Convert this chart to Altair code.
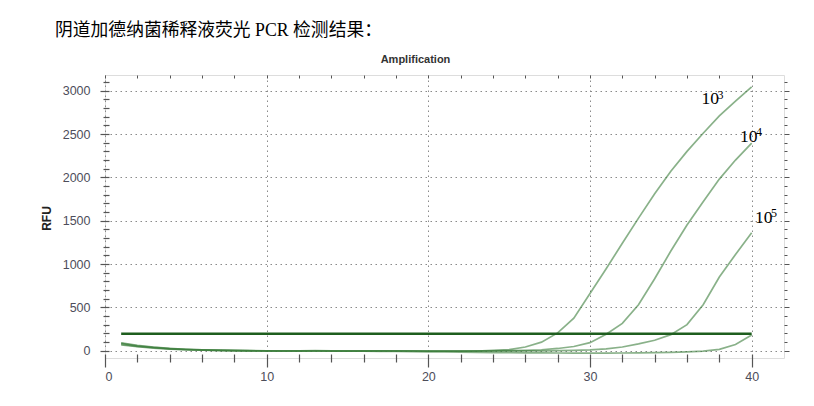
import altair as alt
import pandas as pd

# ---------------- data ----------------
cycles = list(range(1, 41))
rfu_1e3 = [85, 55, 38, 24, 15, 9, 4, 1, -1, -2, -3, -2, -1, -2, -3, -3, -2, -2, -3, -4,
           -5, -5, -5, 2, 12, 42, 98, 205, 375, 660, 945, 1240, 1530, 1810, 2070, 2300,
           2510, 2710, 2880, 3045]
rfu_1e4 = [75, 50, 33, 20, 12, 7, 3, 0, -2, -3, -4, -3, -3, -4, -4, -3, -3, -3, -4, -5,
           -5, -4, -3, -2, 0, 3, 10, 25, 48, 92, 190, 315, 530, 830, 1150, 1450, 1720,
           1980, 2200, 2395]
rfu_1e5 = [65, 45, 30, 18, 10, 5, 2, -1, -3, -4, -5, -5, -4, -4, -5, -5, -4, -4, -4, -5,
           -5, -5, -4, -4, -3, -3, -2, 0, 3, 8, 20, 42, 78, 120, 185, 300, 530, 850, 1110,
           1360]
rfu_neg = [90, 60, 40, 26, 16, 10, 5, 2, 0, -2, -3, -4, -4, -5, -6, -7, -8, -10, -12, -14,
           -16, -18, -20, -22, -24, -25, -26, -27, -28, -28, -28, -27, -26, -24, -20, -14,
           -5, 15, 70, 181]
series_names = ["1e3", "1e4", "1e5", "neg"]

threshold_cycles = [1, 40]
threshold_rfu = [195, 195]

label_base = ["10", "10", "10"]
label_exp = ["3", "4", "5"]
label_cycle = [36.9, 39.28, 40.2]
label_rfu = [2843, 2412, 1477]

x_ticks = list(range(0, 42, 2))
y_ticks = list(range(0, 3200, 100))

title_text = "阴道加德纳菌稀释液荧光 PCR 检测结果："

# ---------------- tables ----------------
rows = []
for name, vals in zip(series_names, [rfu_1e3, rfu_1e4, rfu_1e5, rfu_neg]):
    for c, v in zip(cycles, vals):
        rows.append({"series": name, "cycle": c, "rfu": v})
curves_df = pd.DataFrame(rows)
thr_df = pd.DataFrame({"cycle": threshold_cycles, "rfu": threshold_rfu})
lab_df = pd.DataFrame({"cycle": label_cycle, "rfu": label_rfu,
                       "base": label_base, "exp": label_exp})

xs = alt.Scale(domain=[0, 42], nice=False, zero=False)
ys = alt.Scale(domain=[-85, 3182], nice=False, zero=False)

axis_font = "Liberation Sans"
label_color = "#4d4d5a"
tick_color = "#555555"

major_x = "datum.value % 10 === 0"
major_y = "datum.value % 500 === 0"

x_bottom = alt.Axis(
    orient="bottom", values=x_ticks, format="d",
    labelExpr=f"{major_x} ? datum.label : ''",
    tickSize={"condition": {"test": major_x, "value": 13}, "value": 8},
    tickColor=tick_color, tickWidth=1.2, offset=-4, domain=False,
    grid=True, gridDash=[1.5, 3.5], gridColor="#8a8a8a", gridWidth=1,
    gridOpacity={"condition": {"test": major_x, "value": 1}, "value": 0},
    title=None, labelFont=axis_font, labelFontSize=12.5, labelColor=label_color,
    labelPadding=3,
)
y_left = alt.Axis(
    orient="left", values=y_ticks, format="d",
    labelExpr=f"{major_y} ? datum.label : ''",
    tickSize={"condition": {"test": major_y, "value": 9}, "value": 6},
    tickColor=tick_color, tickWidth=1.2, offset=-4, domain=False,
    grid=True, gridDash=[1.5, 3.5], gridColor="#8a8a8a", gridWidth=1,
    gridOpacity={"condition": {"test": major_y, "value": 1}, "value": 0},
    title="RFU", titleFont=axis_font, titleFontSize=12, titleFontWeight="bold",
    titleColor="#222222", titleAngle=270, titleX=-63, titleY=143,
    titleAlign="center", titleBaseline="middle",
    labelFont=axis_font, labelFontSize=12.5, labelColor=label_color,
    labelPadding=10,
)
x_top = alt.Axis(
    orient="top", values=x_ticks, labels=False, tickSize=3, offset=-3,
    tickColor=tick_color, tickWidth=1, domain=False, grid=False,
    title="Amplification", titleFont=axis_font, titleFontSize=11,
    titleFontWeight="bold", titleColor="#333333", titleX=310, titleY=-16,
    titleAlign="center", titleBaseline="alphabetic",
)
y_right = alt.Axis(
    orient="right", values=y_ticks, labels=False,
    tickSize={"condition": {"test": major_y, "value": 5}, "value": 3},
    tickColor=tick_color, tickWidth=1, domain=False, grid=False, title=None,
)

curves = alt.Chart(curves_df).mark_line(
    color="#3a7d3a", strokeWidth=1.7, opacity=0.6
).encode(
    x=alt.X("cycle:Q", scale=xs, axis=x_bottom),
    y=alt.Y("rfu:Q", scale=ys, axis=y_left),
    detail="series:N",
)

threshold = alt.Chart(thr_df).mark_line(color="#1e5e1e", strokeWidth=2.5).encode(
    x=alt.X("cycle:Q", scale=xs, axis=x_top),
    y=alt.Y("rfu:Q", scale=ys, axis=y_right),
)

base_txt = alt.Chart(lab_df).mark_text(
    align="left", baseline="alphabetic", font="Liberation Serif",
    fontSize=17.5, color="#000000"
).encode(
    x=alt.X("cycle:Q", scale=xs, axis=None),
    y=alt.Y("rfu:Q", scale=ys, axis=None),
    text="base:N",
)
exp_txt = alt.Chart(lab_df).mark_text(
    align="left", baseline="alphabetic", font="Liberation Serif",
    fontSize=12, color="#000000", dx=16, dy=-5.5
).encode(
    x=alt.X("cycle:Q", scale=xs, axis=None),
    y=alt.Y("rfu:Q", scale=ys, axis=None),
    text="exp:N",
)

chart = alt.layer(curves, threshold, base_txt, exp_txt).resolve_axis(
    x="independent", y="independent"
).properties(
    width=679, height=283,
    autosize=alt.AutoSizeParams(type="none"),
    padding={"left": 97, "top": 67, "right": 18, "bottom": 36},
    title=alt.TitleParams(
        text=title_text, anchor="start", frame="group", dx=-50, dy=1,
        font="Liberation Serif, Noto Sans CJK SC", fontSize=17.8,
        fontWeight="normal", color="#000000", baseline="alphabetic", offset=0,
    ),
).configure_view(
    stroke="#4d4d4d", strokeWidth=1.5
).configure(background="white")

chart.save("out.html", embed_options={"renderer": "svg", "actions": False})
